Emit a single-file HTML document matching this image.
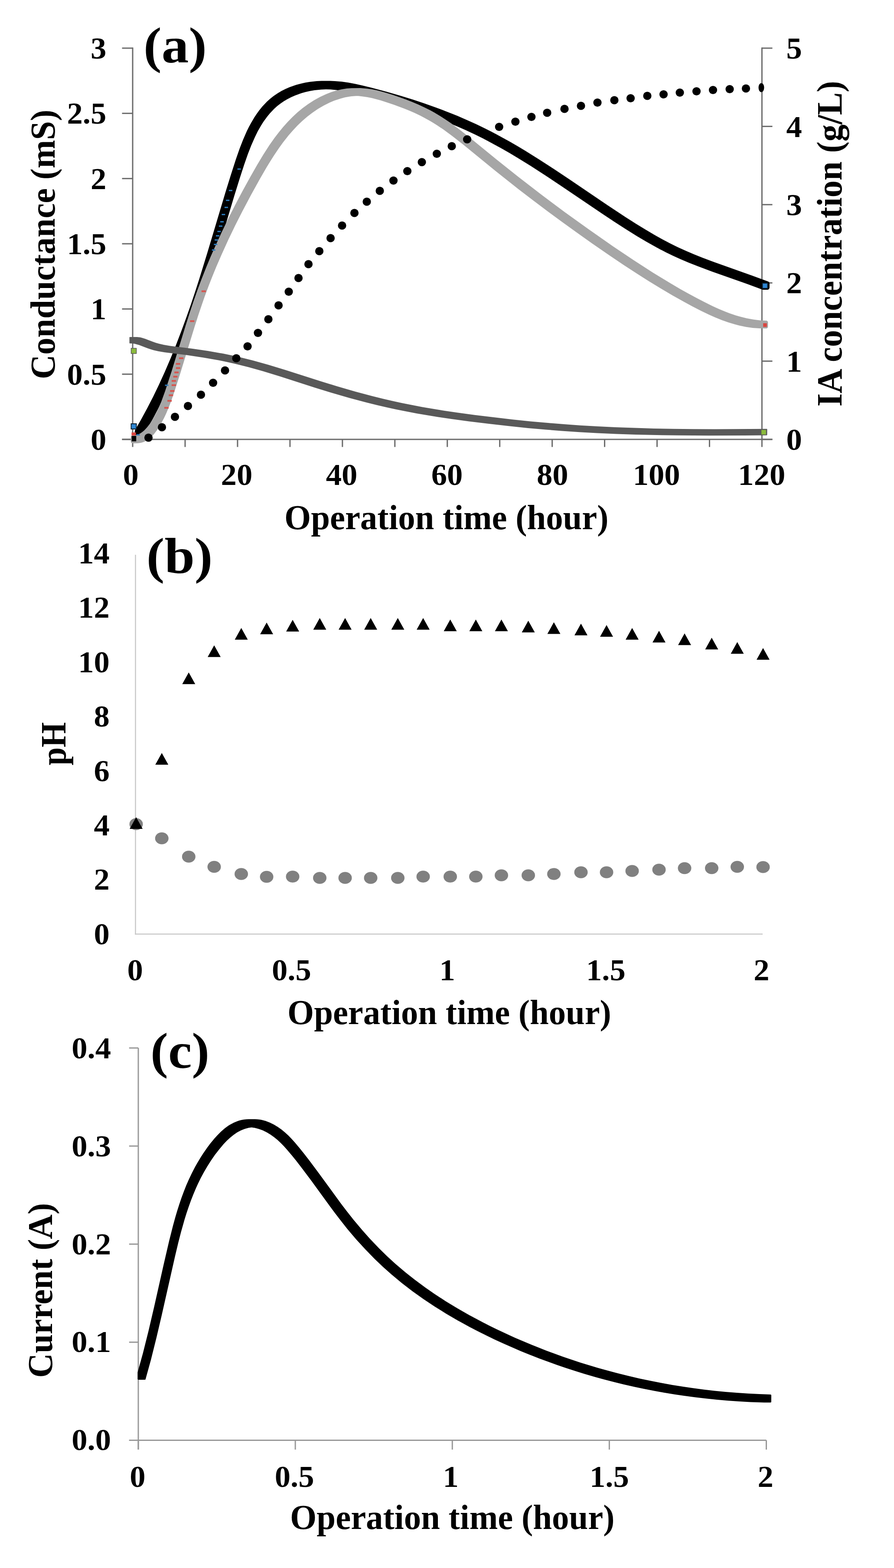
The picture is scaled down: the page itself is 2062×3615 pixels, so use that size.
<!DOCTYPE html>
<html><head><meta charset="utf-8"><title>Figure</title>
<style>html,body{margin:0;padding:0;background:#fff;overflow:hidden;width:2062px;height:3615px;}svg{display:block;}text{font-family:"Liberation Serif",serif;font-weight:bold;}</style>
</head><body>
<svg width="2062" height="3615" viewBox="0 0 2062 3615">
<rect width="2062" height="3615" fill="#fff"/>
<line x1="306" y1="109.5" x2="306" y2="1014.5" stroke="#6b6b6b" stroke-width="3"/>
<line x1="1757.4" y1="109.5" x2="1757.4" y2="1014.5" stroke="#6b6b6b" stroke-width="3"/>
<line x1="281.5" y1="1013" x2="1781.5" y2="1013" stroke="#6b6b6b" stroke-width="3"/>
<line x1="281.5" y1="1013.0" x2="306" y2="1013.0" stroke="#6b6b6b" stroke-width="3"/>
<line x1="281.5" y1="862.6666666666666" x2="306" y2="862.6666666666666" stroke="#6b6b6b" stroke-width="3"/>
<line x1="281.5" y1="712.3333333333333" x2="306" y2="712.3333333333333" stroke="#6b6b6b" stroke-width="3"/>
<line x1="281.5" y1="562.0" x2="306" y2="562.0" stroke="#6b6b6b" stroke-width="3"/>
<line x1="281.5" y1="411.66666666666663" x2="306" y2="411.66666666666663" stroke="#6b6b6b" stroke-width="3"/>
<line x1="281.5" y1="261.33333333333337" x2="306" y2="261.33333333333337" stroke="#6b6b6b" stroke-width="3"/>
<line x1="281.5" y1="111.0" x2="306" y2="111.0" stroke="#6b6b6b" stroke-width="3"/>
<line x1="1757.4" y1="1013.0" x2="1781.5" y2="1013.0" stroke="#6b6b6b" stroke-width="3"/>
<line x1="1757.4" y1="832.6" x2="1781.5" y2="832.6" stroke="#6b6b6b" stroke-width="3"/>
<line x1="1757.4" y1="652.2" x2="1781.5" y2="652.2" stroke="#6b6b6b" stroke-width="3"/>
<line x1="1757.4" y1="471.79999999999995" x2="1781.5" y2="471.79999999999995" stroke="#6b6b6b" stroke-width="3"/>
<line x1="1757.4" y1="291.4" x2="1781.5" y2="291.4" stroke="#6b6b6b" stroke-width="3"/>
<line x1="1757.4" y1="111.0" x2="1781.5" y2="111.0" stroke="#6b6b6b" stroke-width="3"/>
<line x1="306.0" y1="1013" x2="306.0" y2="1030.5" stroke="#6b6b6b" stroke-width="3"/>
<line x1="426.95" y1="1013" x2="426.95" y2="1030.5" stroke="#6b6b6b" stroke-width="3"/>
<line x1="547.9" y1="1013" x2="547.9" y2="1030.5" stroke="#6b6b6b" stroke-width="3"/>
<line x1="668.85" y1="1013" x2="668.85" y2="1030.5" stroke="#6b6b6b" stroke-width="3"/>
<line x1="789.8" y1="1013" x2="789.8" y2="1030.5" stroke="#6b6b6b" stroke-width="3"/>
<line x1="910.75" y1="1013" x2="910.75" y2="1030.5" stroke="#6b6b6b" stroke-width="3"/>
<line x1="1031.7" y1="1013" x2="1031.7" y2="1030.5" stroke="#6b6b6b" stroke-width="3"/>
<line x1="1152.65" y1="1013" x2="1152.65" y2="1030.5" stroke="#6b6b6b" stroke-width="3"/>
<line x1="1273.6" y1="1013" x2="1273.6" y2="1030.5" stroke="#6b6b6b" stroke-width="3"/>
<line x1="1394.5500000000002" y1="1013" x2="1394.5500000000002" y2="1030.5" stroke="#6b6b6b" stroke-width="3"/>
<line x1="1515.5" y1="1013" x2="1515.5" y2="1030.5" stroke="#6b6b6b" stroke-width="3"/>
<line x1="1636.45" y1="1013" x2="1636.45" y2="1030.5" stroke="#6b6b6b" stroke-width="3"/>
<line x1="1757.4" y1="1013" x2="1757.4" y2="1030.5" stroke="#6b6b6b" stroke-width="3"/>
<path d="M419.2,760.8 406.1,795.1 394.3,824.2 379.8,857.9 366.8,886.4 353.3,914.5 339.1,942.1 324.3,969.3 311.5,991.5 310.8,994.1 310.8,1003.6 311.1,1005.5 312.2,1007.1 313.9,1008.2 315.8,1008.6 325.3,1008.6 327.0,1008.3 328.5,1007.4 329.6,1006.1 332.2,1001.7 345.0,979.2 355.0,960.9 364.7,942.4 374.0,923.7 385.4,900.1 394.2,881.0 404.8,857.0 413.0,837.6 422.9,813.2 436.2,778.8 448.9,744.2 461.0,709.5 474.1,669.9 494.2,605.6 540.4,451.4 553.0,411.0 562.9,380.5 571.7,355.2 579.4,335.5 587.8,316.4 594.6,302.6 602.1,289.5 607.4,281.1 616.0,269.2 622.1,261.7 632.0,251.3 639.1,244.8 646.6,238.9 654.5,233.4 663.0,228.4 671.8,223.9 681.0,219.9 695.3,214.8 705.2,212.1 715.3,209.8 725.5,208.1 740.9,206.4 751.7,205.9 762.2,206.3 777.6,207.7 792.9,210.0 808.3,212.8 823.6,216.2 844.0,221.2 869.4,228.0 894.6,235.0 919.7,242.4 944.5,250.2 969.1,258.4 993.5,267.1 1012.8,274.3 1036.8,283.9 1055.8,291.9 1074.6,300.3 1093.3,309.0 1111.8,318.1 1125.5,325.2 1157.3,342.4 1175.2,352.8 1193.1,363.4 1224.0,382.6 1259.1,405.2 1294.0,428.5 1389.8,493.3 1416.1,510.7 1442.5,527.8 1469.2,544.5 1491.7,557.8 1514.5,570.6 1537.4,582.6 1551.4,589.3 1570.1,597.8 1589.0,605.8 1608.1,613.3 1641.9,626.0 1722.1,654.3 1758.6,667.7 1760.4,668.1 1769.9,668.1 1771.8,667.7 1773.4,666.6 1774.5,665.0 1774.9,663.1 1774.9,653.6 1774.5,651.6 1773.3,649.9 1771.7,648.9 1735.0,635.4 1645.1,603.5 1621.2,594.5 1602.3,587.0 1583.6,579.1 1565.1,570.8 1546.8,561.8 1528.7,552.3 1510.7,542.3 1488.4,529.1 1466.2,515.4 1444.2,501.4 1400.4,472.6 1313.4,413.6 1278.5,390.3 1243.3,367.4 1212.2,348.0 1194.3,337.3 1176.2,326.8 1144.2,309.2 1130.4,302.0 1111.8,292.8 1097.7,286.0 1078.8,277.4 1054.9,267.1 1030.7,257.4 1006.4,248.2 976.9,237.7 952.1,229.6 922.0,220.3 891.7,211.6 856.0,202.0 835.4,196.9 819.8,193.5 804.0,190.6 788.3,188.3 772.4,186.9 761.7,186.4 741.5,186.4 730.6,186.9 714.6,188.7 703.9,190.5 693.2,192.9 682.8,195.8 667.8,201.1 658.1,205.3 648.7,210.1 639.7,215.4 631.2,221.3 623.0,227.8 615.5,234.6 605.1,245.6 598.6,253.5 592.4,261.9 586.7,270.5 578.8,283.9 573.9,293.1 569.2,302.6 560.6,322.2 552.8,342.3 543.9,367.8 532.4,403.6 519.8,444.0 478.1,583.3 459.8,642.5 450.3,672.1 440.4,701.7 430.0,731.3 419.2,760.8Z" fill="#000" fill-rule="nonzero"/>
<path d="M428.2,750.3 395.7,856.2 381.0,901.3 372.0,925.9 365.9,940.3 361.5,949.7 354.1,963.5 345.8,976.7 339.6,984.8 333.0,991.9 329.4,995.0 325.8,997.7 322.1,999.9 318.2,1001.7 314.2,1002.9 310.1,1003.7 305.4,1003.9 304.0,1004.2 302.7,1005.1 301.9,1006.4 301.6,1007.9 301.6,1017.9 301.9,1019.4 302.8,1020.7 304.1,1021.6 305.6,1021.9 315.8,1021.9 321.2,1021.6 326.4,1020.6 331.3,1019.0 335.6,1017.1 340.1,1014.4 344.3,1011.3 348.3,1007.9 352.3,1003.9 355.8,999.9 362.3,991.4 365.4,986.7 371.0,977.5 378.6,963.3 383.2,953.6 389.4,938.8 395.0,923.9 401.9,903.9 416.5,858.6 449.0,752.7 457.0,727.7 465.4,702.9 472.3,683.1 481.4,658.7 489.0,639.2 498.9,615.1 511.3,586.4 526.5,553.1 542.4,520.0 559.0,487.2 578.7,449.9 599.3,412.8 615.2,385.3 623.5,371.7 631.9,358.4 643.7,341.0 652.9,328.3 665.7,312.1 675.8,300.4 686.3,289.3 697.3,278.7 708.9,268.7 721.1,259.4 733.9,250.8 747.3,243.0 761.3,236.1 770.9,232.1 785.6,227.2 795.6,224.6 805.7,222.7 810.8,222.0 821.0,221.2 826.5,221.3 836.8,222.4 847.2,224.0 857.6,226.1 868.0,228.7 878.3,231.6 893.6,236.4 908.6,241.5 932.8,250.4 946.9,256.2 956.1,260.3 969.7,266.8 978.6,271.4 991.8,278.8 1000.5,284.0 1009.2,289.5 1022.0,298.1 1043.0,313.5 1068.0,333.1 1142.4,393.8 1196.3,436.4 1229.7,462.0 1263.2,487.2 1296.9,512.0 1330.9,536.5 1365.0,560.7 1403.8,587.5 1438.6,610.9 1469.4,631.1 1496.1,648.0 1523.2,664.6 1550.6,680.7 1578.4,696.3 1597.2,706.4 1616.2,716.2 1635.4,725.4 1650.1,731.9 1664.9,737.9 1679.8,743.2 1694.9,747.8 1705.1,750.5 1720.6,753.7 1736.2,755.9 1751.9,757.1 1767.3,757.2 1768.8,756.9 1770.1,756.0 1771.0,754.7 1771.3,753.2 1771.3,743.2 1771.0,741.7 1770.1,740.4 1768.9,739.5 1767.4,739.2 1752.1,738.5 1736.9,736.6 1721.9,733.8 1707.1,730.1 1697.2,727.2 1682.6,722.2 1672.9,718.5 1658.4,712.5 1644.0,705.9 1625.0,696.6 1606.2,686.8 1587.6,676.7 1569.1,666.4 1546.3,653.1 1505.9,628.5 1461.8,600.1 1414.0,567.9 1358.3,529.1 1303.2,489.4 1248.7,448.8 1194.6,407.1 1145.0,367.6 1078.9,313.6 1057.9,297.2 1040.9,284.6 1027.9,275.7 1014.7,267.2 1001.4,259.3 992.4,254.3 978.7,247.4 964.8,241.0 950.5,234.9 936.0,229.3 921.2,223.9 906.1,218.8 890.6,214.0 880.0,211.0 869.4,208.3 858.6,206.1 847.9,204.4 837.0,203.4 831.6,203.1 810.7,203.2 799.9,204.0 789.1,205.7 778.5,208.1 773.3,209.5 763.0,212.8 752.9,216.7 738.2,223.5 724.2,231.3 710.7,239.9 698.0,249.2 685.9,259.3 674.4,269.9 663.4,281.2 652.9,292.9 642.9,305.2 633.3,317.8 621.1,335.1 606.7,357.5 592.9,380.4 577.1,408.2 559.2,440.8 541.9,473.6 527.6,501.8 511.5,534.9 498.3,563.5 485.6,592.3 475.5,616.6 464.0,645.8 454.8,670.4 446.1,695.2 437.8,720.2 428.2,750.3Z" fill="#a6a6a6" fill-rule="nonzero"/>
<path d="M321.1,795.6 339.3,802.6 346.6,805.1 353.9,807.2 364.8,809.7 379.4,812.2 430.0,818.5 469.5,824.4 505.4,830.8 523.3,834.5 541.2,838.5 573.4,846.6 605.6,855.6 644.9,867.6 727.1,893.9 762.9,905.0 806.0,917.5 845.5,928.1 870.7,934.3 892.4,939.3 914.1,944.0 939.5,949.1 961.3,953.2 986.7,957.6 1012.3,961.7 1041.5,966.0 1081.7,971.5 1129.5,977.3 1173.6,982.3 1217.9,986.9 1258.5,990.5 1295.5,993.4 1336.3,996.2 1377.1,998.4 1421.6,1000.4 1466.2,1001.9 1514.5,1003.1 1566.5,1003.8 1633.4,1004.2 1716.7,1004.0 1768.5,1003.6 1769.2,1003.3 1769.5,1002.6 1769.5,989.8 1769.2,989.1 1768.5,988.8 1648.6,989.4 1597.9,989.2 1553.3,988.7 1508.7,987.9 1464.2,986.6 1419.6,985.0 1378.8,983.0 1338.1,980.7 1301.1,978.1 1264.1,975.1 1223.5,971.4 1183.0,967.2 1138.8,962.1 1094.8,956.7 1054.6,951.2 1025.4,946.9 999.9,942.8 974.4,938.4 952.7,934.3 927.3,929.3 905.6,924.6 884.0,919.6 858.8,913.3 819.3,902.8 776.3,890.3 740.5,879.2 658.3,852.9 618.9,840.9 583.1,830.9 550.9,822.9 533.0,818.9 515.0,815.3 479.1,809.0 443.0,803.7 392.5,797.4 378.0,795.0 367.2,792.5 360.0,790.4 352.8,787.9 334.5,780.9 327.2,778.7 323.4,777.8 316.0,777.0 299.5,777.0 298.8,777.3 298.5,778.0 298.5,790.8 298.8,791.6 299.5,791.8 304.0,791.8 310.3,792.6 313.9,793.4 321.1,795.6Z" fill="#595959" fill-rule="nonzero"/>
<circle cx="342.5" cy="1009" r="9.6" fill="#000"/>
<circle cx="373.5" cy="985" r="9.6" fill="#000"/>
<circle cx="403.5" cy="961" r="9.6" fill="#000"/>
<circle cx="433.5" cy="936" r="9.6" fill="#000"/>
<circle cx="463.5" cy="910" r="9.6" fill="#000"/>
<circle cx="491.5" cy="882.5" r="9.6" fill="#000"/>
<circle cx="519" cy="854" r="9.6" fill="#000"/>
<circle cx="545" cy="826" r="9.6" fill="#000"/>
<circle cx="571" cy="798.5" r="9.6" fill="#000"/>
<circle cx="595" cy="767.5" r="9.6" fill="#000"/>
<circle cx="619" cy="736" r="9.6" fill="#000"/>
<circle cx="642.5" cy="704" r="9.6" fill="#000"/>
<circle cx="666" cy="672.5" r="9.6" fill="#000"/>
<circle cx="688.5" cy="641" r="9.6" fill="#000"/>
<circle cx="711.5" cy="609" r="9.6" fill="#000"/>
<circle cx="736.5" cy="579" r="9.6" fill="#000"/>
<circle cx="762.5" cy="549" r="9.6" fill="#000"/>
<circle cx="789" cy="520" r="9.6" fill="#000"/>
<circle cx="817.5" cy="491" r="9.6" fill="#000"/>
<circle cx="846" cy="465" r="9.6" fill="#000"/>
<circle cx="876" cy="440" r="9.6" fill="#000"/>
<circle cx="907.5" cy="416.25" r="9.6" fill="#000"/>
<circle cx="939.5" cy="394.5" r="9.6" fill="#000"/>
<circle cx="973" cy="373.75" r="9.6" fill="#000"/>
<circle cx="1007.5" cy="354.5" r="9.6" fill="#000"/>
<circle cx="1042" cy="337" r="9.6" fill="#000"/>
<circle cx="1077.5" cy="321.25" r="9.6" fill="#000"/>
<circle cx="1114" cy="306" r="9.6" fill="#000"/>
<circle cx="1151.25" cy="292.5" r="9.6" fill="#000"/>
<circle cx="1188.75" cy="280.5" r="9.6" fill="#000"/>
<circle cx="1225.75" cy="269.5" r="9.6" fill="#000"/>
<circle cx="1262" cy="260" r="9.6" fill="#000"/>
<circle cx="1302" cy="251" r="9.6" fill="#000"/>
<circle cx="1340" cy="244" r="9.6" fill="#000"/>
<circle cx="1378" cy="236.5" r="9.6" fill="#000"/>
<circle cx="1417" cy="231" r="9.6" fill="#000"/>
<circle cx="1454.5" cy="226.5" r="9.6" fill="#000"/>
<circle cx="1493" cy="221" r="9.6" fill="#000"/>
<circle cx="1530.5" cy="217.5" r="9.6" fill="#000"/>
<circle cx="1568" cy="213.5" r="9.6" fill="#000"/>
<circle cx="1606.5" cy="210.5" r="9.6" fill="#000"/>
<circle cx="1644.5" cy="207.5" r="9.6" fill="#000"/>
<circle cx="1683" cy="205.5" r="9.6" fill="#000"/>
<circle cx="1720.5" cy="204" r="9.6" fill="#000"/>
<ellipse cx="1756" cy="202" rx="6.5" ry="10.5" fill="#000"/>
<rect x="303.7" y="1005" width="10.5" height="12.5" fill="#000"/>
<rect x="547.6" y="388.3" width="8" height="3" fill="#2b7bbd"/>
<rect x="527.9" y="437.7" width="8" height="3" fill="#2b7bbd"/>
<rect x="521.2" y="460.4" width="8" height="3" fill="#2b7bbd"/>
<rect x="517.9" y="476.7" width="8" height="3" fill="#2b7bbd"/>
<rect x="511.3" y="493.1" width="8" height="3" fill="#2b7bbd"/>
<rect x="508.0" y="509.8" width="8" height="3" fill="#2b7bbd"/>
<rect x="504.9" y="519.8" width="8" height="3" fill="#2b7bbd"/>
<rect x="501.4" y="532.2" width="8" height="3" fill="#2b7bbd"/>
<rect x="498.0" y="542.2" width="8" height="3" fill="#2b7bbd"/>
<rect x="495.1" y="551.7" width="8" height="3" fill="#2b7bbd"/>
<rect x="493.3" y="562.0" width="8" height="3" fill="#2b7bbd"/>
<rect x="488.7" y="574.9" width="8" height="3" fill="#2b7bbd"/>
<rect x="380.5" y="886.7" width="8" height="3" fill="#2b7bbd"/>
<rect x="314.6" y="1001.1" width="8" height="3" fill="#2b7bbd"/>
<rect x="464.8" y="669.5" width="10" height="4" fill="#d6554f"/>
<rect x="438.3" y="738.4" width="10" height="4" fill="#d6554f"/>
<rect x="412.9" y="823.9" width="10" height="4" fill="#d6554f"/>
<rect x="405.7" y="836.9" width="10" height="4" fill="#d6554f"/>
<rect x="405.7" y="846.6" width="10" height="4" fill="#d6554f"/>
<rect x="402.1" y="856.6" width="10" height="4" fill="#d6554f"/>
<rect x="399.5" y="866.4" width="10" height="4" fill="#d6554f"/>
<rect x="395.9" y="876.2" width="10" height="4" fill="#d6554f"/>
<rect x="395.9" y="886.0" width="10" height="4" fill="#d6554f"/>
<rect x="392.3" y="899.4" width="10" height="4" fill="#d6554f"/>
<rect x="389.3" y="909.3" width="10" height="4" fill="#d6554f"/>
<rect x="386.1" y="922.1" width="10" height="4" fill="#d6554f"/>
<rect x="378.9" y="938.2" width="10" height="4" fill="#d6554f"/>
<rect x="302.5" y="977" width="12" height="12" fill="#2f86d2" stroke="#0a2030" stroke-width="2"/>
<rect x="1758.5" y="652.8" width="12" height="12" fill="#2f86d2" stroke="#0a2030" stroke-width="2"/>
<rect x="303.5" y="997" width="10" height="7" fill="#d9453f"/>
<rect x="1759.5" y="744.5" width="10" height="10" fill="#d9453f" stroke="#a6a6a6" stroke-width="1.5"/>
<rect x="302.5" y="803" width="12" height="12" fill="#8bbb3c" stroke="#595959" stroke-width="1.5"/>
<rect x="1755.5" y="990.5" width="12" height="12" fill="#8bbb3c" stroke="#595959" stroke-width="1.5"/>
<text transform="translate(331.07,143.91) scale(1.0672,1)" font-size="117.13" fill="#000">(a)</text>
<text transform="translate(245.20,1037.10) scale(1.0450,1)" font-size="69.50" text-anchor="end">0</text>
<text transform="translate(245.20,886.77) scale(1.0450,1)" font-size="69.50" text-anchor="end">0.5</text>
<text transform="translate(245.20,736.43) scale(1.0450,1)" font-size="69.50" text-anchor="end">1</text>
<text transform="translate(245.20,586.10) scale(1.0450,1)" font-size="69.50" text-anchor="end">1.5</text>
<text transform="translate(245.20,435.77) scale(1.0450,1)" font-size="69.50" text-anchor="end">2</text>
<text transform="translate(245.20,285.43) scale(1.0450,1)" font-size="69.50" text-anchor="end">2.5</text>
<text transform="translate(245.20,135.10) scale(1.0450,1)" font-size="69.50" text-anchor="end">3</text>
<text transform="translate(1813.60,1037.10) scale(1.0450,1)" font-size="69.50" text-anchor="start">0</text>
<text transform="translate(1813.60,856.70) scale(1.0450,1)" font-size="69.50" text-anchor="start">1</text>
<text transform="translate(1813.60,676.30) scale(1.0450,1)" font-size="69.50" text-anchor="start">2</text>
<text transform="translate(1813.60,495.90) scale(1.0450,1)" font-size="69.50" text-anchor="start">3</text>
<text transform="translate(1813.60,315.50) scale(1.0450,1)" font-size="69.50" text-anchor="start">4</text>
<text transform="translate(1813.60,135.10) scale(1.0450,1)" font-size="69.50" text-anchor="start">5</text>
<text transform="translate(301.60,1118.40) scale(1.0450,1)" font-size="69.50" text-anchor="middle">0</text>
<text transform="translate(545.90,1118.40) scale(1.0450,1)" font-size="69.50" text-anchor="middle">20</text>
<text transform="translate(788.00,1118.40) scale(1.0450,1)" font-size="69.50" text-anchor="middle">40</text>
<text transform="translate(1031.00,1118.40) scale(1.0450,1)" font-size="69.50" text-anchor="middle">60</text>
<text transform="translate(1274.30,1118.40) scale(1.0450,1)" font-size="69.50" text-anchor="middle">80</text>
<text transform="translate(1514.20,1118.40) scale(1.0450,1)" font-size="69.50" text-anchor="middle">100</text>
<text transform="translate(1756.80,1118.40) scale(1.0450,1)" font-size="69.50" text-anchor="middle">120</text>
<text transform="translate(656.07,1220.44) scale(0.9754,1)" font-size="80.67" fill="#000">Operation time (hour)</text>
<text transform="translate(126.10,874.33) rotate(-90) scale(0.9815,1)" font-size="80.00">Conductance (mS)</text>
<text transform="translate(1941.00,937.55) rotate(-90) scale(0.9535,1)" font-size="82.44">IA concentration (g/L)</text>
<line x1="312.5" y1="1279" x2="312.5" y2="2154.7" stroke="#c8c8c8" stroke-width="2.5"/>
<line x1="311.3" y1="2153.5" x2="1759" y2="2153.5" stroke="#c8c8c8" stroke-width="2.5"/>
<ellipse cx="314" cy="1900" rx="15.5" ry="13.8" fill="#808080"/>
<ellipse cx="373.2" cy="1932.7" rx="15.5" ry="13.8" fill="#808080"/>
<ellipse cx="435.3" cy="1975" rx="15.5" ry="13.8" fill="#808080"/>
<ellipse cx="494" cy="1998.5" rx="15.5" ry="13.8" fill="#808080"/>
<ellipse cx="556.5" cy="2015" rx="15.5" ry="13.8" fill="#808080"/>
<ellipse cx="615" cy="2021.5" rx="15.5" ry="13.8" fill="#808080"/>
<ellipse cx="675" cy="2021" rx="15.5" ry="13.8" fill="#808080"/>
<ellipse cx="737.5" cy="2024" rx="15.5" ry="13.8" fill="#808080"/>
<ellipse cx="796" cy="2024" rx="15.5" ry="13.8" fill="#808080"/>
<ellipse cx="855" cy="2024" rx="15.5" ry="13.8" fill="#808080"/>
<ellipse cx="917.5" cy="2024" rx="15.5" ry="13.8" fill="#808080"/>
<ellipse cx="976" cy="2021" rx="15.5" ry="13.8" fill="#808080"/>
<ellipse cx="1038.5" cy="2021" rx="15.5" ry="13.8" fill="#808080"/>
<ellipse cx="1097.5" cy="2021" rx="15.5" ry="13.8" fill="#808080"/>
<ellipse cx="1156.5" cy="2018" rx="15.5" ry="13.8" fill="#808080"/>
<ellipse cx="1218.5" cy="2018" rx="15.5" ry="13.8" fill="#808080"/>
<ellipse cx="1277.5" cy="2015" rx="15.5" ry="13.8" fill="#808080"/>
<ellipse cx="1340" cy="2011" rx="15.5" ry="13.8" fill="#808080"/>
<ellipse cx="1399" cy="2011" rx="15.5" ry="13.8" fill="#808080"/>
<ellipse cx="1458" cy="2008" rx="15.5" ry="13.8" fill="#808080"/>
<ellipse cx="1520" cy="2005" rx="15.5" ry="13.8" fill="#808080"/>
<ellipse cx="1579" cy="2001.5" rx="15.5" ry="13.8" fill="#808080"/>
<ellipse cx="1641.5" cy="2001.5" rx="15.5" ry="13.8" fill="#808080"/>
<ellipse cx="1700.5" cy="1998.5" rx="15.5" ry="13.8" fill="#808080"/>
<ellipse cx="1760" cy="1999" rx="15.5" ry="13.8" fill="#808080"/>
<path d="M314.0,1884.0 L329.0,1911.0 L299.0,1911.0 Z" fill="#000"/>
<path d="M373.2,1736.0 L388.2,1763.0 L358.2,1763.0 Z" fill="#000"/>
<path d="M435.3,1550.3 L450.3,1577.3 L420.3,1577.3 Z" fill="#000"/>
<path d="M494.0,1487.7 L509.0,1514.7 L479.0,1514.7 Z" fill="#000"/>
<path d="M556.5,1447.7 L571.5,1474.7 L541.5,1474.7 Z" fill="#000"/>
<path d="M615.0,1435.3 L630.0,1462.3 L600.0,1462.3 Z" fill="#000"/>
<path d="M675.0,1429.0 L690.0,1456.0 L660.0,1456.0 Z" fill="#000"/>
<path d="M737.5,1424.7 L752.5,1451.7 L722.5,1451.7 Z" fill="#000"/>
<path d="M796.0,1424.7 L811.0,1451.7 L781.0,1451.7 Z" fill="#000"/>
<path d="M855.0,1424.7 L870.0,1451.7 L840.0,1451.7 Z" fill="#000"/>
<path d="M917.5,1424.7 L932.5,1451.7 L902.5,1451.7 Z" fill="#000"/>
<path d="M976.0,1424.7 L991.0,1451.7 L961.0,1451.7 Z" fill="#000"/>
<path d="M1038.5,1428.3 L1053.5,1455.3 L1023.5,1455.3 Z" fill="#000"/>
<path d="M1097.5,1428.3 L1112.5,1455.3 L1082.5,1455.3 Z" fill="#000"/>
<path d="M1156.5,1428.3 L1171.5,1455.3 L1141.5,1455.3 Z" fill="#000"/>
<path d="M1218.5,1431.0 L1233.5,1458.0 L1203.5,1458.0 Z" fill="#000"/>
<path d="M1277.5,1434.5 L1292.5,1461.5 L1262.5,1461.5 Z" fill="#000"/>
<path d="M1340.0,1437.7 L1355.0,1464.7 L1325.0,1464.7 Z" fill="#000"/>
<path d="M1399.0,1441.0 L1414.0,1468.0 L1384.0,1468.0 Z" fill="#000"/>
<path d="M1458.0,1447.7 L1473.0,1474.7 L1443.0,1474.7 Z" fill="#000"/>
<path d="M1520.0,1454.3 L1535.0,1481.3 L1505.0,1481.3 Z" fill="#000"/>
<path d="M1579.0,1460.3 L1594.0,1487.3 L1564.0,1487.3 Z" fill="#000"/>
<path d="M1641.5,1470.3 L1656.5,1497.3 L1626.5,1497.3 Z" fill="#000"/>
<path d="M1700.5,1480.3 L1715.5,1507.3 L1685.5,1507.3 Z" fill="#000"/>
<path d="M1760.0,1494.0 L1775.0,1521.0 L1745.0,1521.0 Z" fill="#000"/>
<text transform="translate(337.78,1320.75) scale(1.0726,1)" font-size="116.47" fill="#000">(b)</text>
<text transform="translate(252.80,2176.70) scale(1.0450,1)" font-size="69.50" text-anchor="end">0</text>
<text transform="translate(252.80,2051.30) scale(1.0450,1)" font-size="69.50" text-anchor="end">2</text>
<text transform="translate(252.80,1925.90) scale(1.0450,1)" font-size="69.50" text-anchor="end">4</text>
<text transform="translate(252.80,1800.50) scale(1.0450,1)" font-size="69.50" text-anchor="end">6</text>
<text transform="translate(252.80,1675.10) scale(1.0450,1)" font-size="69.50" text-anchor="end">8</text>
<text transform="translate(252.80,1549.70) scale(1.0450,1)" font-size="69.50" text-anchor="end">10</text>
<text transform="translate(252.80,1424.30) scale(1.0450,1)" font-size="69.50" text-anchor="end">12</text>
<text transform="translate(252.80,1298.90) scale(1.0450,1)" font-size="69.50" text-anchor="end">14</text>
<text transform="translate(311.60,2260.20) scale(1.0450,1)" font-size="69.50" text-anchor="middle">0</text>
<text transform="translate(672.35,2260.20) scale(1.0450,1)" font-size="69.50" text-anchor="middle">0.5</text>
<text transform="translate(1031.60,2260.20) scale(1.0450,1)" font-size="69.50" text-anchor="middle">1</text>
<text transform="translate(1397.30,2260.20) scale(1.0450,1)" font-size="69.50" text-anchor="middle">1.5</text>
<text transform="translate(1756.35,2260.20) scale(1.0450,1)" font-size="69.50" text-anchor="middle">2</text>
<text transform="translate(663.07,2361.00) scale(0.9882,1)" font-size="79.55" fill="#000">Operation time (hour)</text>
<text transform="translate(150.70,1764.53) rotate(-90) scale(0.9147,1)" font-size="81.68">pH</text>
<line x1="319" y1="2416" x2="319" y2="3342" stroke="#999999" stroke-width="3"/>
<line x1="297.8" y1="3320.5" x2="1767.5" y2="3320.5" stroke="#999999" stroke-width="3"/>
<line x1="297.8" y1="3320.5" x2="319" y2="3320.5" stroke="#999999" stroke-width="3"/>
<line x1="297.8" y1="3094.4" x2="319" y2="3094.4" stroke="#999999" stroke-width="3"/>
<line x1="297.8" y1="2868.3" x2="319" y2="2868.3" stroke="#999999" stroke-width="3"/>
<line x1="297.8" y1="2642.2" x2="319" y2="2642.2" stroke="#999999" stroke-width="3"/>
<line x1="297.8" y1="2416.1" x2="319" y2="2416.1" stroke="#999999" stroke-width="3"/>
<line x1="319.0" y1="3320.5" x2="319.0" y2="3342" stroke="#999999" stroke-width="3"/>
<line x1="681.125" y1="3320.5" x2="681.125" y2="3342" stroke="#999999" stroke-width="3"/>
<line x1="1043.25" y1="3320.5" x2="1043.25" y2="3342" stroke="#999999" stroke-width="3"/>
<line x1="1405.375" y1="3320.5" x2="1405.375" y2="3342" stroke="#999999" stroke-width="3"/>
<line x1="1767.5" y1="3320.5" x2="1767.5" y2="3342" stroke="#999999" stroke-width="3"/>
<path d="M377.2,2916.6 355.5,3013.1 342.4,3068.9 329.8,3119.2 317.4,3164.0 317.4,3179.1 317.5,3179.8 318.0,3180.5 318.6,3180.9 333.9,3181.1 334.7,3180.9 335.4,3180.4 335.8,3179.6 348.2,3134.7 360.8,3084.3 372.7,3033.6 403.7,2896.5 410.9,2866.3 417.3,2841.3 425.7,2811.5 430.3,2796.8 435.2,2782.2 440.4,2767.7 446.0,2753.4 452.0,2739.3 456.2,2729.9 463.0,2716.1 470.3,2702.4 478.2,2688.9 486.6,2675.7 495.7,2662.6 505.5,2649.9 515.9,2637.5 523.3,2629.8 531.0,2622.7 539.0,2616.2 547.3,2610.6 556.0,2606.0 564.9,2602.5 574.1,2600.1 580.3,2599.2 587.5,2600.2 596.8,2602.7 606.0,2606.1 615.1,2610.5 623.8,2615.8 632.2,2621.7 640.2,2628.3 647.9,2635.5 655.2,2643.1 662.3,2651.0 672.7,2663.2 682.7,2675.6 695.6,2692.2 717.6,2721.5 769.4,2792.6 785.1,2813.1 801.2,2833.4 821.4,2857.2 842.5,2880.3 864.4,2902.7 883.3,2920.7 902.7,2938.0 926.7,2957.9 951.4,2976.9 976.7,2995.0 1002.6,3012.2 1029.0,3028.7 1056.0,3044.4 1083.4,3059.4 1101.8,3069.0 1120.4,3078.3 1139.2,3087.4 1162.8,3098.3 1201.0,3114.9 1220.3,3122.8 1244.5,3132.2 1283.6,3146.5 1303.3,3153.2 1328.1,3161.3 1348.0,3167.4 1372.9,3174.7 1393.0,3180.2 1418.2,3186.7 1438.4,3191.7 1463.8,3197.4 1484.2,3201.7 1509.7,3206.7 1530.2,3210.4 1555.8,3214.7 1576.4,3217.8 1602.2,3221.2 1628.0,3224.3 1653.8,3227.0 1679.6,3229.2 1705.5,3231.0 1731.4,3232.4 1762.5,3233.5 1777.0,3233.5 1777.8,3233.3 1778.5,3232.9 1778.9,3232.2 1779.0,3217.0 1778.5,3215.6 1777.1,3215.0 1751.3,3214.1 1725.4,3212.8 1699.6,3211.1 1673.8,3209.0 1648.0,3206.4 1622.3,3203.4 1596.6,3200.0 1576.1,3197.0 1550.5,3192.9 1524.9,3188.3 1499.5,3183.3 1474.1,3177.9 1448.8,3172.1 1423.6,3165.8 1398.5,3159.1 1378.5,3153.5 1338.8,3141.4 1299.4,3128.2 1260.4,3114.0 1226.6,3100.6 1188.4,3084.4 1150.7,3067.0 1132.0,3057.9 1113.5,3048.6 1081.5,3031.5 1054.5,3016.1 1028.0,2999.9 1002.0,2983.0 980.8,2968.3 955.9,2949.8 935.6,2933.8 912.0,2913.7 892.9,2896.2 874.3,2878.0 852.8,2855.5 835.5,2836.1 815.5,2812.3 802.7,2796.1 787.1,2775.7 735.3,2704.7 713.3,2675.3 700.3,2658.6 690.2,2646.1 679.9,2633.8 672.7,2625.8 665.2,2618.1 657.3,2610.8 649.1,2604.0 640.5,2597.9 631.4,2592.5 622.1,2587.9 612.5,2584.3 602.9,2581.8 597.9,2581.0 593.0,2580.5 588.1,2580.3 573.4,2580.3 568.5,2580.4 563.6,2580.9 558.7,2581.7 554.0,2582.8 549.1,2584.2 539.9,2587.9 530.8,2592.7 526.3,2595.5 517.9,2601.7 509.9,2608.7 502.2,2616.4 494.8,2624.5 484.5,2637.1 478.0,2645.8 468.8,2658.9 463.0,2667.9 454.9,2681.4 449.8,2690.5 442.6,2704.4 435.9,2718.4 429.7,2732.6 424.0,2747.0 418.6,2761.5 413.6,2776.2 408.9,2790.9 404.5,2805.8 399.0,2825.7 390.1,2860.9 377.2,2916.6Z" fill="#000" fill-rule="nonzero"/>
<text transform="translate(347.09,2461.66) scale(1.0481,1)" font-size="116.91" fill="#000">(c)</text>
<text transform="translate(256.00,2440.30) scale(1.0450,1)" font-size="69.50" text-anchor="end">0.4</text>
<text transform="translate(256.00,2665.90) scale(1.0450,1)" font-size="69.50" text-anchor="end">0.3</text>
<text transform="translate(256.00,2892.00) scale(1.0450,1)" font-size="69.50" text-anchor="end">0.2</text>
<text transform="translate(256.00,3117.00) scale(1.0450,1)" font-size="69.50" text-anchor="end">0.1</text>
<text transform="translate(256.00,3342.70) scale(1.0450,1)" font-size="69.50" text-anchor="end">0.0</text>
<text transform="translate(317.50,3428.35) scale(1.0450,1)" font-size="69.50" text-anchor="middle">0</text>
<text transform="translate(679.05,3428.35) scale(1.0450,1)" font-size="69.50" text-anchor="middle">0.5</text>
<text transform="translate(1039.60,3428.35) scale(1.0450,1)" font-size="69.50" text-anchor="middle">1</text>
<text transform="translate(1405.30,3428.35) scale(1.0450,1)" font-size="69.50" text-anchor="middle">1.5</text>
<text transform="translate(1765.70,3428.35) scale(1.0450,1)" font-size="69.50" text-anchor="middle">2</text>
<text transform="translate(669.06,3525.19) scale(0.9760,1)" font-size="80.74" fill="#000">Operation time (hour)</text>
<text transform="translate(120.40,3176.54) rotate(-90) scale(0.9786,1)" font-size="80.45">Current (A)</text>
</svg>
</body></html>
